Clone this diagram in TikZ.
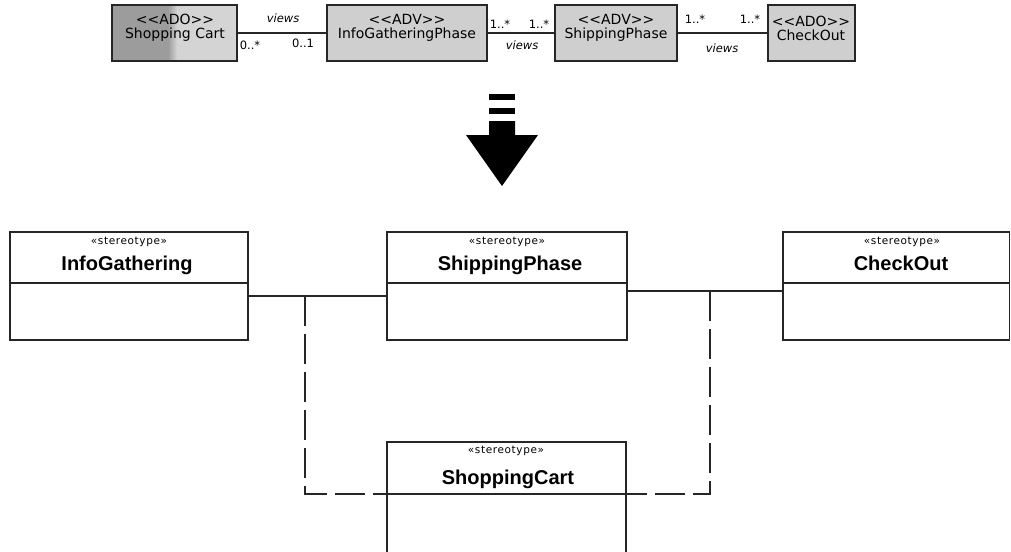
\documentclass[tikz,border=0pt]{standalone}
\usepackage{fontspec}
\setmainfont{Liberation Sans}
\newfontfamily\tfont{DejaVu Sans}
\newfontfamily\stfont[LetterSpace=6]{DejaVu Sans}
\definecolor{gdark}{HTML}{9C9C9C}
\definecolor{glight}{HTML}{D4D4D4}
\definecolor{gbox}{HTML}{CFCFCF}
\definecolor{ink}{HTML}{262626}
\tikzset{
 topbox/.style={draw=ink, line width=1.3pt, fill=gbox, minimum height=56, inner sep=0pt},
 toptxt/.style={font=\tfont\fontsize{14}{14}\selectfont, align=center, inner sep=0pt},
 mult/.style={font=\tfont\fontsize{11.5}{13}\selectfont, inner sep=0pt},
 vw/.style={font=\tfont\itshape\fontsize{11.5}{13}\selectfont, inner sep=0pt},
 cls/.style={draw=ink, line width=1.1pt, inner sep=0pt},
 stereo/.style={font=\stfont\fontsize{10.5}{12}\selectfont, anchor=base, inner sep=0pt},
 cname/.style={font=\bfseries\fontsize{20}{22}\selectfont, anchor=base, inner sep=0pt},
 conn/.style={line width=1.1pt, draw=ink},
 dep/.style={conn, dash pattern=on 30pt off 8pt},
}
\begin{document}
\begin{tikzpicture}[x=1pt,y=-1pt]
\useasboundingbox (0,0) rectangle (1011,551);
\fill[white] (0,0) rectangle (1011,551);

% ---------- top row ----------
\fill[gdark] (112,5) rectangle (168,61);
\shade[left color=gdark, right color=glight] (168,5) rectangle (177,61);
\fill[glight] (177,5) rectangle (237,61);
\node[topbox, fill=none, minimum width=125] (sc) at (174.5,33) {};
\node[toptxt] (sct) at (175,28) {<\kern0pt<ADO>\kern0pt>\\Shopping Cart};

\node[topbox, minimum width=160] (igp) at (407,33) {};
\node[toptxt] (igpt) at (407,28) {<\kern0pt<ADV>\kern0pt>\\InfoGatheringPhase};

\node[topbox, minimum width=122] (spp) at (616,33) {};
\node[toptxt] (sppt) at (616,28) {<\kern0pt<ADV>\kern0pt>\\ShippingPhase};

\node[topbox, minimum width=87] (cop) at (811.5,33) {};
\node[toptxt] (copt) at (811,28) {<\kern0pt<ADO>\kern0pt>\\CheckOut};

\draw[conn] (sc) -- (igp);
\draw[conn] (igp) -- (spp);
\draw[conn] (spp) -- (cop);

\node[vw] (v1) at (283,18) {views};
\node[mult] (m1) at (250,45) {0..*};
\node[mult] (m2) at (303,43) {0..1};

\node[mult] (m3) at (500,24) {1..*};
\node[mult] (m4) at (539,24) {1..*};
\node[vw] (v2) at (522,45) {views};

\node[mult] (m5) at (695,19) {1..*};
\node[mult] (m6) at (750,19) {1..*};
\node[vw] (v3) at (722,48) {views};

% ---------- big arrow ----------
\fill[black] (489,94) rectangle (515,100);
\fill[black] (489,108) rectangle (515,114);
\fill[black] (489,121) -- (515,121) -- (515,135) -- (538,135) -- (502,186) -- (466,135) -- (489,135) -- cycle;

% ---------- bottom classes ----------
\coordinate (d1) at (0,283);
\coordinate (d2) at (0,494);

\node[cls, minimum width=238, minimum height=108] (ig) at (129,286) {};
\draw[conn] (ig.west |- d1) -- (ig.east |- d1);
\node[stereo] (igs) at (129,244) {«stereotype»};
\node[cname] (ign) at (127,270) {InfoGathering};

\node[cls, minimum width=240, minimum height=108] (sp) at (507,286) {};
\draw[conn] (sp.west |- d1) -- (sp.east |- d1);
\node[stereo] (sps) at (507,244) {«stereotype»};
\node[cname] (spn) at (510,270) {ShippingPhase};

\node[cls, minimum width=226.5, minimum height=108] (co) at (896.25,286) {};
\draw[conn] (co.west |- d1) -- (co.east |- d1);
\node[stereo] (cos) at (902,244) {«stereotype»};
\node[cname] (con) at (901,270) {CheckOut};

\node[cls, minimum width=239, minimum height=118] (scart) at (506.5,501) {};
\draw[conn] (scart.west |- d2) -- (scart.east |- d2);
\node[stereo] (scs) at (506,453) {«stereotype»};
\node[cname] (scn) at (508,484) {ShoppingCart};

% ---------- connectors ----------
\coordinate (j1) at (305,296);
\coordinate (j2) at (710,291);
\draw[conn] (ig.east |- j1) -- (sp.west |- j1);
\draw[conn] (sp.east |- j2) -- (co.west |- j2);
\draw[dep] (j1) |- (scart.west |- d2);
\draw[dep] (j2) |- (scart.east |- d2);
\end{tikzpicture}
\end{document}
